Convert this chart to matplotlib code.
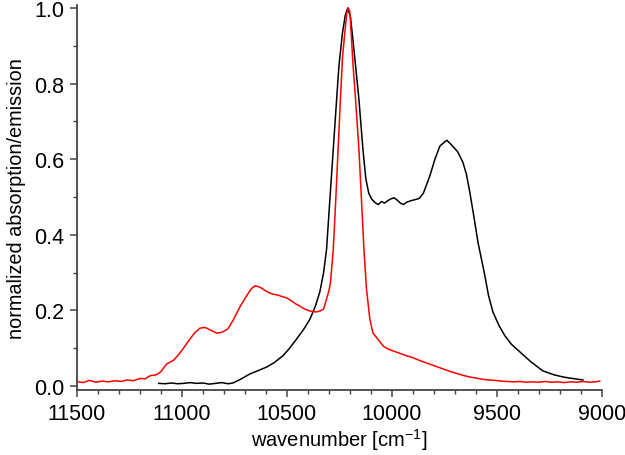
import matplotlib.pyplot as plt
import numpy as np

plt.rcParams['font.family'] = ['Liberation Sans', 'DejaVu Sans']
plt.rcParams['mathtext.default'] = 'regular'

# emission (red)
em_x = [11500, 11470, 11440, 11410, 11380, 11350, 11320, 11290, 11260, 11230, 11200,
        11175, 11152, 11120, 11100, 11073, 11040, 11020, 10995, 10970, 10940, 10914,
        10890, 10860, 10835, 10810, 10781, 10755, 10724, 10690, 10670, 10652, 10630,
        10610, 10590, 10567, 10540, 10520, 10501, 10480, 10460, 10440, 10424, 10400,
        10380, 10359, 10340, 10325, 10311, 10300, 10292, 10279, 10267, 10256, 10245,
        10235, 10224, 10215, 10208, 10200, 10194, 10185, 10173, 10157, 10145, 10133,
        10121, 10105, 10090, 10067, 10040, 10019, 9990, 9960, 9930, 9900, 9870, 9840,
        9810, 9780, 9750, 9720, 9690, 9660, 9630, 9600, 9570, 9540, 9510, 9480, 9450,
        9420, 9390, 9360, 9330, 9300, 9270, 9240, 9210, 9180, 9150, 9120, 9090, 9060,
        9030, 9010]
em_y = [0.012, 0.009, 0.015, 0.010, 0.013, 0.011, 0.014, 0.012, 0.016, 0.014, 0.020,
        0.019, 0.027, 0.030, 0.038, 0.058, 0.068, 0.080, 0.098, 0.118, 0.140, 0.153,
        0.155, 0.147, 0.140, 0.142, 0.151, 0.175, 0.209, 0.240, 0.257, 0.265, 0.262,
        0.255, 0.248, 0.243, 0.240, 0.236, 0.233, 0.226, 0.218, 0.212, 0.206, 0.200,
        0.197, 0.196, 0.199, 0.204, 0.230, 0.252, 0.275, 0.362, 0.495, 0.627, 0.759,
        0.870, 0.935, 0.985, 1.000, 0.990, 0.935, 0.850, 0.759, 0.627, 0.495, 0.362,
        0.257, 0.177, 0.140, 0.124, 0.105, 0.098, 0.092, 0.086, 0.080, 0.075, 0.068,
        0.062, 0.056, 0.050, 0.044, 0.038, 0.033, 0.028, 0.024, 0.021, 0.018, 0.016,
        0.015, 0.013, 0.012, 0.011, 0.012, 0.010, 0.011, 0.010, 0.012, 0.010, 0.011,
        0.009, 0.011, 0.010, 0.012, 0.010, 0.011, 0.013]

# absorption (black)
ab_x = [11110, 11080, 11050, 11020, 10990, 10960, 10930, 10900, 10870, 10840, 10810,
        10780, 10757, 10720, 10676, 10640, 10597, 10560, 10519, 10490, 10454, 10420,
        10390, 10365, 10343, 10325, 10311, 10295, 10279, 10263, 10252, 10235, 10222,
        10210, 10197, 10181, 10157, 10138, 10124, 10110, 10097, 10080, 10065, 10050,
        10035, 10020, 10005, 9990, 9975, 9960, 9945, 9930, 9910, 9890, 9870, 9850,
        9819, 9795, 9771, 9750, 9738, 9720, 9700, 9686, 9662, 9645, 9629, 9610, 9590,
        9560, 9540, 9519, 9490, 9462, 9430, 9390, 9340, 9281, 9230, 9186, 9140, 9090]
ab_y = [0.007, 0.006, 0.008, 0.006, 0.007, 0.009, 0.007, 0.008, 0.005, 0.007, 0.009,
        0.006, 0.008, 0.018, 0.032, 0.040, 0.050, 0.062, 0.080, 0.098, 0.124, 0.150,
        0.177, 0.210, 0.249, 0.300, 0.362, 0.495, 0.627, 0.759, 0.847, 0.935, 0.980,
        1.000, 0.975, 0.892, 0.759, 0.627, 0.548, 0.510, 0.495, 0.485, 0.480, 0.488,
        0.484, 0.490, 0.495, 0.498, 0.492, 0.484, 0.480, 0.486, 0.490, 0.493, 0.496,
        0.510, 0.556, 0.600, 0.635, 0.645, 0.650, 0.640, 0.628, 0.619, 0.592, 0.560,
        0.513, 0.450, 0.380, 0.300, 0.240, 0.196, 0.160, 0.133, 0.110, 0.090, 0.065,
        0.040, 0.030, 0.024, 0.020, 0.016]

fig = plt.figure(figsize=(6.25, 4.56), dpi=100)
ax = fig.add_axes([0.123, 0.1425, 0.840, 0.8445])
ax.plot(ab_x, ab_y, color='black', lw=1.1)
ax.plot(em_x, em_y, color='red', lw=1.1)

ax.set_xlim(11500, 9000)
ax.set_ylim(-0.0106, 1.008)
ax.set_xticks(np.arange(11500, 8999, -500))
ax.set_xticks(np.arange(11500, 8999, -100), minor=True)
ax.set_yticks(np.arange(0, 1.01, 0.2))
ax.set_yticks(np.arange(0, 1.01, 0.1), minor=True)
ax.set_yticklabels(['0.0', '0.2', '0.4', '0.6', '0.8', '1.0'])

for s in ['top', 'right']:
    ax.spines[s].set_visible(False)
for s in ['left', 'bottom']:
    ax.spines[s].set_color('#444444')
    ax.spines[s].set_linewidth(1.3)
ax.tick_params(which='major', direction='out', length=5, width=1.1, color='#444444',
               labelsize=15.5, pad=4)
ax.tick_params(which='minor', direction='out', length=3, width=1.0, color='#444444')

ax.set_xlabel('wavenumber [cm$^{-1}$]', fontsize=14.5, labelpad=2)
ax.set_ylabel('normalized absorption/emission', fontsize=14.3, labelpad=6)

fig.savefig('out.png', dpi=100)
